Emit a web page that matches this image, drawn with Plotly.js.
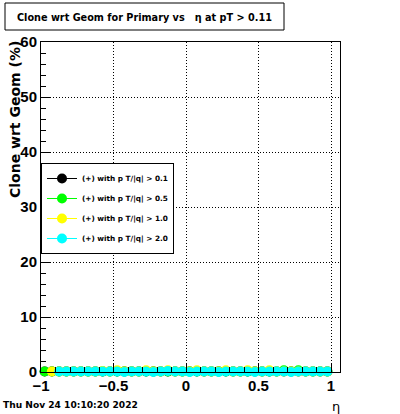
<!DOCTYPE html>
<html><head><meta charset="utf-8">
<script src="https://cdn.plot.ly/plotly-3.0.1.min.js"></script>
<style>body{margin:0;padding:0;background:#fff}#chart{width:400px;height:414px}</style>
</head><body><div id="chart"></div>
<script>
const eta = [-0.975,-0.925,-0.875,-0.825,-0.775,-0.725,-0.675,-0.625,-0.575,-0.525,
             -0.475,-0.425,-0.375,-0.325,-0.275,-0.225,-0.175,-0.125,-0.075,-0.025,
              0.025, 0.075, 0.125, 0.175, 0.225, 0.275, 0.325, 0.375, 0.425, 0.475,
              0.525, 0.575, 0.625, 0.675, 0.725, 0.775, 0.825, 0.875, 0.925, 0.975];
const clonePt01 = [0.1,0.1,0.1,0.1,0.1,0.1,0.1,0.1,0.1,0.1,
                   0.1,0.1,0.1,0.1,0.1,0.1,0.1,0.1,0.1,0.1,
                   0.1,0.1,0.1,0.1,0.1,0.1,0.1,0.1,0.1,0.1,
                   0.1,0.1,0.1,0.1,0.1,0.1,0.1,0.1,0.1,0.1];
const clonePt05 = [0.1,0.1,0.1,0.1,0.1,0.1,0.1,0.1,0.1,0.1,
                   0.1,0.1,0.1,0.1,0.1,0.1,0.1,0.1,0.1,0.1,
                   0.1,0.1,0.1,0.1,0.1,0.1,0.1,0.1,0.1,0.1,
                   0.1,0.1,0.1,0.3,0.1,0.3,0.1,0.1,0.1,0.1];
const clonePt10 = [null,0.1,0.1,0.1,0.1,0.1,0.1,0.1,0.2,0.1,
                   0.3,0.1,0.1,0.1,0.3,0.1,0.1,0.3,0.1,0.1,
                   0.1,0.3,0.1,0.1,0.1,0.3,0.1,0.1,0.3,0.1,
                   0.1,0.3,0.1,0.1,0.1,0.1,0.1,0.1,0.1,0.1];
const clonePt20 = [null,null,0.1,0.1,0.1,0.1,0.1,0.1,0.1,0.1,
                   0.1,0.0,0.1,0.1,0.1,0.0,0.1,0.2,0.1,0.1,
                   0.0,0.1,0.1,0.1,0.0,0.1,0.1,0.1,0.1,0.0,
                   0.1,0.1,0.1,0.1,0.0,0.1,0.1,0.1,0.1,0.1];
const seriesNames = ["(+) with p T/|q| > 0.1","(+) with p T/|q| > 0.5",
                     "(+) with p T/|q| > 1.0","(+) with p T/|q| > 2.0"];
const seriesColors = ["#000000","#00ff00","#ffff00","#00ffff"];
const seriesValues = [clonePt01, clonePt05, clonePt10, clonePt20];
const xTickVals = [-1,-0.5,0,0.5,1];
const xTickText = ["\u22121","\u22120.5","0","0.5","1"];
const yTickVals = [0,10,20,30,40,50,60];

const traces = seriesValues.map((vals,k)=>({
  type:'scatter', mode:'lines+markers', x:eta, y:vals, name:seriesNames[k],
  legendgroup:'g'+k,
  line:{color:seriesColors[k], width:1},
  marker:{color:seriesColors[k], size:10, symbol:'circle', line:{width:0}},
  error_x:{type:'constant', value:0.025, color:seriesColors[k], thickness:1, width:0},
  cliponaxis:false, connectgaps:false
}));

const L = 41, R = 340, T = 42, B = 372;
const px = v => (v - L)/(R - L);
const py = v => (B - v)/(B - T);
const tickFont = {family:'Liberation Sans, Arial, sans-serif', size:15, color:'#000', weight:'bold'};
const dvb = (s)=>({family:'DejaVu Sans, sans-serif', size:s, color:'#000', weight:'bold'});

const layout = {
  width:400, height:414,
  margin:{l:L, r:400-R, t:T, b:414-B, pad:0},
  paper_bgcolor:'#fff', plot_bgcolor:'#fff',
  showlegend:true,
  legend:{x:0, xanchor:'left', y:py(163), yanchor:'top', bgcolor:'#fff',
          bordercolor:'#000', borderwidth:1, traceorder:'grouped', tracegroupgap:1,
          font:dvb(7.3), itemwidth:30},
  xaxis:{range:[-1,1.062], tickmode:'array', tickvals:xTickVals, ticktext:xTickText,
         ticks:'inside', ticklen:9, tickcolor:'#000', tickfont:tickFont,
         showgrid:true, gridcolor:'#000', griddash:'1px,2px', gridwidth:1,
         showline:true, linecolor:'#000', linewidth:1, mirror:true, zeroline:false,
         minor:{dtick:0.1, ticks:'inside', ticklen:5, tickcolor:'#000', showgrid:false}},
  yaxis:{range:[0,60], tickmode:'array', tickvals:yTickVals,
         ticks:'inside', ticklen:9, tickcolor:'#000', tickfont:tickFont,
         showgrid:true, gridcolor:'#000', griddash:'1px,2px', gridwidth:1,
         showline:true, linecolor:'#000', linewidth:1, mirror:true, zeroline:false,
         minor:{dtick:2, ticks:'inside', ticklen:5, tickcolor:'#000', showgrid:false}},
  shapes:[{type:'rect', xref:'paper', yref:'paper', x0:px(5), x1:px(284), y0:py(30), y1:py(3),
           line:{color:'#000', width:1}, fillcolor:'#fff', layer:'above'}],
  annotations:[
    {xref:'paper', yref:'paper', x:px(144.5), y:py(17), xanchor:'center', yanchor:'middle',
     text:'Clone wrt Geom for Primary vs   \u03b7 at pT > 0.11', showarrow:false, font:dvb(9.7)},
    {xref:'paper', yref:'paper', x:px(15), y:py(120), xanchor:'center', yanchor:'middle', textangle:-90,
     text:'Clone wrt Geom (%)', showarrow:false, font:dvb(14)},
    {xref:'paper', yref:'paper', x:px(1), y:py(405), xanchor:'left', yanchor:'middle',
     text:'Thu Nov 24 10:10:20 2022', showarrow:false, font:dvb(9.1)},
    {xref:'paper', yref:'paper', x:px(336), y:py(406), xanchor:'center', yanchor:'middle',
     text:'\u03b7', showarrow:false,
     font:{family:'DejaVu Sans, sans-serif', size:13, color:'#000'}}
  ]
};
Plotly.newPlot('chart', traces, layout, {staticPlot:true, displayModeBar:false});
</script></body></html>
